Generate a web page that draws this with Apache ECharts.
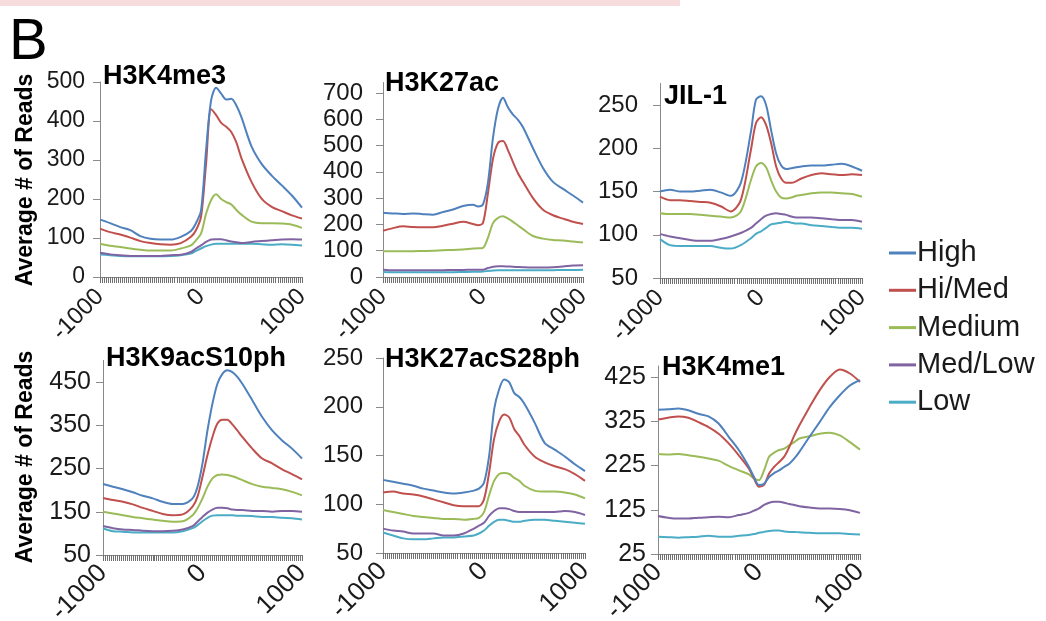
<!DOCTYPE html>
<html>
<head>
<meta charset="utf-8">
<script src="https://cdn.jsdelivr.net/npm/echarts@6.0.0/dist/echarts.min.js"></script>
<style>
html,body{margin:0;padding:0;background:#fff;}
#chart{width:1046px;height:621px;}
</style>
</head>
<body>
<div id="chart"></div>
<script>
// Positions along the gene (bp relative to TSS)
const xPos = [-1000,-900,-800,-700,-600,-500,-400,-300,-200,-100,-50,0,50,100,150,200,250,300,350,400,500,600,700,800,900,1000];
const seriesNames = ['High','Hi/Med','Medium','Med/Low','Low'];
const panelTitles = ['H3K4me3','H3K27ac','JIL-1','H3K9acS10ph','H3K27acS28ph','H3K4me1'];
const xTickLabels = ['-1000','0','1000'];
const yAxisTitle = 'Average # of Reads';

// Each panel: High, Hi/Med, Medium, Med/Low, Low
const H3K4me3 = [
  [147,138,128,120,105,98,96,96,103,118,138,170,325,453,485,470,455,457,440,410,335,290,260,235,209,178],
  [124,115,109,101,92,87,84,83,87,103,120,154,290,430,415,395,385,372,345,305,244,201,180,169,158,150],
  [85,80,77,73,70,68,68,68,73,81,94,111,162,197,212,200,192,186,172,160,142,138,138,137,134,126],
  [62,58,56,54,54,54,54,56,57,64,73,81,90,96,97,97,94,91,89,87,90,92,94,96,97,96],
  [58,56,54,53,53,53,53,54,56,60,67,73,79,83,85,85,85,85,85,85,85,84,83,84,83,81]
];
const H3K27ac = [
  [244,242,240,242,239,237,247,257,270,275,268,276,360,530,640,682,645,618,598,570,490,415,362,335,310,283],
  [176,186,193,190,189,189,195,203,210,202,197,206,320,450,510,517,482,437,395,362,300,256,235,222,210,202],
  [98,98,98,98,99,100,102,103,105,108,109,111,150,205,225,231,222,210,196,182,156,146,141,139,135,131],
  [28,26,26,26,26,26,26,27,27,28,28,28,34,39,41,41,40,39,38,37,36,36,37,40,44,45],
  [19,18,18,18,18,18,18,18,19,20,20,21,23,25,26,26,26,26,26,26,26,26,26,27,27,28]
];
const JIL1 = [
  [150,152,150,150,151,152,149,145,160,219,256,260,250,221,194,180,176,177,178,179,180,180,181,182,179,174],
  [144,140,140,139,138,137,133,127,140,198,229,236,227,206,179,165,160,160,162,165,169,171,170,169,170,169],
  [125,124,124,124,123,122,121,120,127,163,179,183,178,163,150,143,142,143,145,146,148,149,149,148,147,144],
  [101,98,96,94,93,93,95,98,102,108,113,118,122,124,125,124,123,121,120,120,120,119,118,117,117,115],
  [95,88,87,87,87,87,85,84,88,96,101,104,108,112,113,114,115,114,113,113,111,110,109,108,108,107]
];
const H3K9acS10ph = [
  [214,208,202,195,187,181,173,168,168,181,208,262,338,400,446,469,477,473,462,446,408,369,338,315,296,273],
  [182,177,173,167,159,152,145,142,144,162,185,231,281,323,354,363,363,352,338,323,296,273,262,248,237,225],
  [150,146,142,138,135,132,129,127,128,142,158,181,208,227,235,236,235,232,228,223,214,208,205,202,196,188],
  [117,112,109,108,106,105,105,106,109,117,127,138,148,155,159,159,158,155,154,154,152,152,150,152,152,150],
  [112,105,104,102,102,102,102,102,105,112,119,128,136,141,142,142,142,142,141,141,140,138,138,136,135,132]
];
const H3K27acS28ph = [
  [125,123,121,119,116,114,112,111,112,114,116,122,149,197,218,228,225,214,210,203,184,163,156,149,141,134],
  [112,113,111,110,108,105,102,99,98,98,98,105,132,167,185,192,189,177,170,161,149,143,139,136,131,124],
  [94,92,90,88,87,86,85,85,84,85,86,92,109,124,131,132,131,127,124,119,114,113,113,112,110,106],
  [75,73,72,70,70,70,68,68,70,75,78,81,88,93,96,96,95,93,92,92,92,92,92,93,92,89],
  [71,68,65,64,64,65,66,66,67,68,70,73,78,82,84,84,83,82,82,83,84,84,83,82,81,80]
];
const H3K4me1 = [
  [351,352,354,350,342,336,320,290,260,222,199,181,184,199,208,214,222,229,241,256,290,323,357,384,406,418],
  [329,333,336,333,323,312,297,275,248,218,196,177,181,207,222,233,245,267,293,316,357,395,425,442,433,414],
  [251,250,251,248,245,241,236,224,214,205,196,192,214,245,254,260,263,271,278,286,291,297,299,293,278,261],
  [111,107,105,105,107,108,109,108,113,118,123,128,136,141,143,143,141,138,136,133,130,128,128,127,124,118],
  [64,63,62,63,64,66,64,64,66,68,70,73,75,77,78,78,76,75,75,74,73,72,72,72,70,69]
];

const panelData = [H3K4me3, H3K27ac, JIL1, H3K9acS10ph, H3K27acS28ph, H3K4me1];
const colors = ['#4F81BD','#C0504D','#9BBB59','#8064A2','#4BACC6'];

// layout (pixels) and axis scales per panel
const layout = [
  {grid:{left:100,top:82,width:202,height:195}, y:{min:0,max:500,interval:100,showMax:true}, t:[103,77], yfs:23, ym:15, xfs:24, xm:16},
  {grid:{left:383,top:82.5,width:200,height:194.5}, y:{min:0,max:740,interval:100,showMax:false}, t:[385,84], yfs:24, ym:20, xfs:24, xm:16},
  {grid:{left:660,top:83.4,width:202,height:194.6}, y:{min:50,max:275,interval:50,showMax:false}, t:[664,97], yfs:24, ym:22, xfs:24, xm:16},
  {grid:{left:103,top:360.4,width:199,height:194.6}, y:{min:50,max:500,interval:100,showMax:false}, t:[106,359], yfs:25, ym:12, xfs:26, xm:14},
  {grid:{left:383,top:358,width:202,height:195}, y:{min:50,max:250,interval:50,showMax:true}, t:[385,360], yfs:24, ym:20, xfs:26, xm:14},
  {grid:{left:658,top:366,width:202,height:188}, y:{min:25,max:450,interval:100,showMax:false}, t:[662,368], yfs:25, ym:12, xfs:26, xm:14}
];

const FONT = 'Liberation Sans, Arial, sans-serif';
const grids = [], xAxes = [], yAxes = [], series = [], graphics = [];

layout.forEach((L, i) => {
  grids.push(Object.assign({outerBoundsMode:'none', containLabel:false}, L.grid));
  xAxes.push({
    type:'value', gridIndex:i, min:-1000, max:1000, interval:1000,
    axisLine:{show:true, onZero:false, lineStyle:{color:'#8a8a8a', width:1}},
    axisTick:{show:true, length:6, lineStyle:{color:'#707070', width:1}},
    minorTick:{show:true, splitNumber:50, length:6, lineStyle:{color:'#707070', width:1}},
    splitLine:{show:false}, minorSplitLine:{show:false},
    axisLabel:{rotate:45, fontSize:L.xfs, color:'#1a1a1a', margin:L.xm, fontFamily:FONT,
      formatter: v => xTickLabels[Math.round((v + 1000) / 1000)] }
  });
  yAxes.push({
    type:'value', gridIndex:i, min:L.y.min, max:L.y.max, interval:L.y.interval,
    axisLine:{show:true, onZero:false, lineStyle:{color:'#8a8a8a', width:1}},
    axisTick:{show:true, length:7, lineStyle:{color:'#8a8a8a'}},
    splitLine:{show:false},
    axisLabel:{fontSize:L.yfs, color:'#1a1a1a', margin:L.ym, fontFamily:FONT, showMaxLabel:L.y.showMax, showMinLabel:true}
  });
  panelData[i].forEach((vals, s) => {
    series.push({
      type:'line', name:seriesNames[s], xAxisIndex:i, yAxisIndex:i,
      data: xPos.map((x, k) => [x, vals[k]]),
      showSymbol:false, smooth:0.3, color:colors[s],
      lineStyle:{width:2, color:colors[s]}, z:10 - s
    });
  });
  graphics.push({
    type:'text', x:L.t[0], y:L.t[1],
    style:{text:panelTitles[i], fill:'#000', font:'bold 27px ' + FONT, verticalAlign:'middle', align:'left'}
  });
});

graphics.push({type:'rect', shape:{x:0,y:0,width:680,height:6}, style:{fill:'#f6dcdc'}, z:-1});
graphics.push({type:'text', x:9, y:43, style:{text:'B', fill:'#000', font:'58px ' + FONT, verticalAlign:'middle', align:'left'}});
[180, 457].forEach(cy => {
  graphics.push({type:'text', x:26, y:cy, rotation:Math.PI/2,
    style:{text:yAxisTitle, fill:'#000', font:'bold 23px ' + FONT, verticalAlign:'middle', align:'center'}});
});

const chart = echarts.init(document.getElementById('chart'), null, {renderer:'canvas'});
chart.setOption({
  animation:false,
  backgroundColor:'#ffffff',
  grid:grids, xAxis:xAxes, yAxis:yAxes, series:series,
  legend:{
    orient:'vertical', left:884, top:233, data:seriesNames,
    icon:'rect', itemWidth:27, itemHeight:3, itemGap:7.3,
    textStyle:{fontSize:29, lineHeight:30, color:'#1a1a1a', fontFamily:FONT, padding:[0,0,0,-4]}
  },
  graphic:graphics
});
</script>
</body>
</html>
